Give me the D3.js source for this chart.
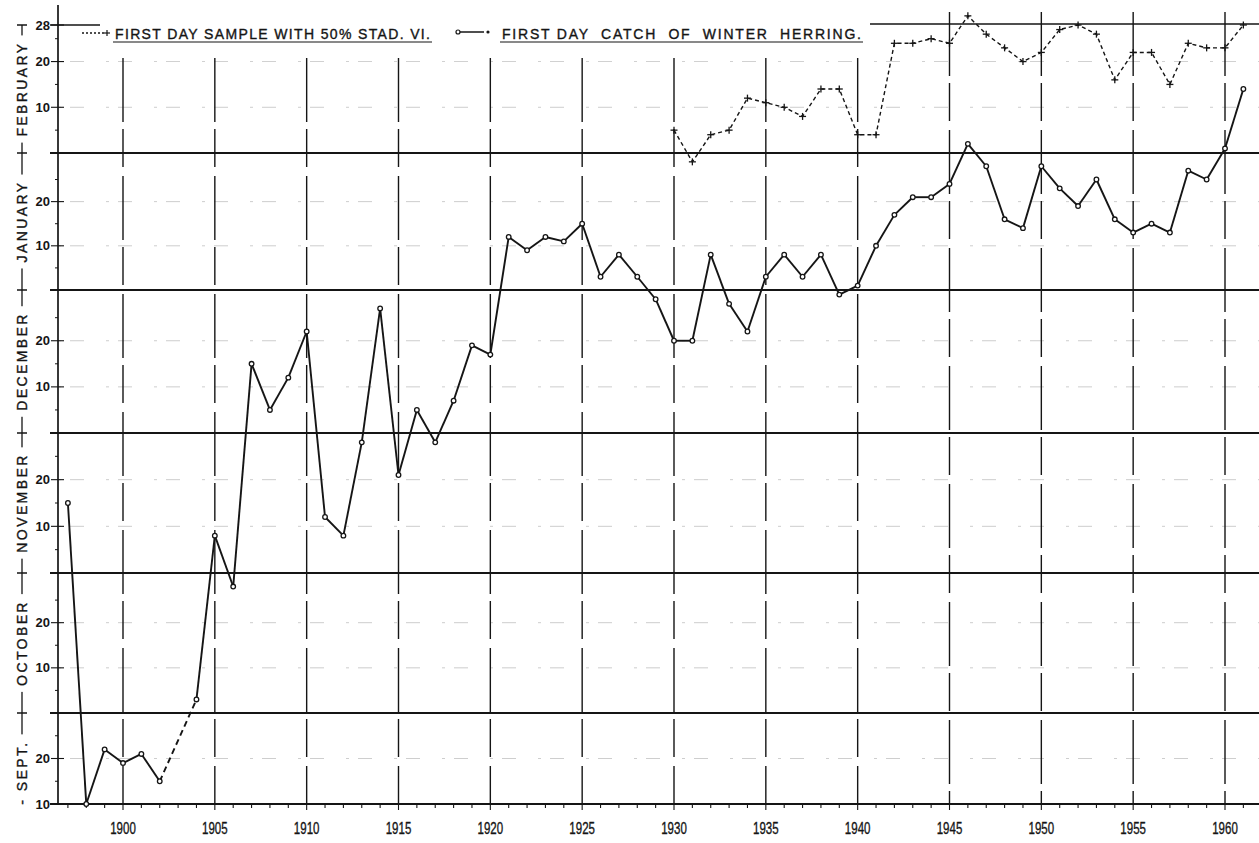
<!DOCTYPE html>
<html>
<head>
<meta charset="utf-8">
<script src="https://cdn.jsdelivr.net/npm/d3@7"></script>
<style>
  body { margin: 0; background: #fff; }
  svg { display: block; font-family: "Liberation Sans", Arial, sans-serif; }
  .lbl { stroke: #151515; stroke-width: 0.35px; }
</style>
</head>
<body>
<div id="chart"></div>
<script>
// first day catch of winter herring (month-day), 1903 missing
const catchYears = [1897, 1898, 1899, 1900, 1901, 1902, 1904, 1905, 1906, 1907, 1908, 1909, 1910,
  1911, 1912, 1913, 1914, 1915, 1916, 1917, 1918, 1919, 1920, 1921, 1922, 1923, 1924, 1925, 1926,
  1927, 1928, 1929, 1930, 1931, 1932, 1933, 1934, 1935, 1936, 1937, 1938, 1939, 1940, 1941, 1942,
  1943, 1944, 1945, 1946, 1947, 1948, 1949, 1950, 1951, 1952, 1953, 1954, 1955, 1956, 1957, 1958,
  1959, 1960, 1961];
const catchDates = ['11-15', '9-10', '9-22', '9-19', '9-21', '9-15', '10-3', '11-8', '10-28', '12-15',
  '12-5', '12-12', '12-22', '11-12', '11-8', '11-28', '12-27', '11-21', '12-5', '11-28', '12-7',
  '12-19', '12-17', '1-12', '1-9', '1-12', '1-11', '1-15', '1-3', '1-8', '1-3', '12-29', '12-20',
  '12-20', '1-8', '12-28', '12-22', '1-3', '1-8', '1-3', '1-8', '12-30', '1-1', '1-10', '1-17',
  '1-21', '1-21', '1-24', '2-2', '1-28', '1-16', '1-14', '1-28', '1-23', '1-19', '1-25', '1-16',
  '1-13', '1-15', '1-13', '1-27', '1-25', '2-1', '2-14'];

// first day sample with 50% stage VI
const stadYears = d3.range(1930, 1962);
const stadDates = ['2-5', '1-29', '2-4', '2-5', '2-12', '2-11', '2-10', '2-8', '2-14', '2-14', '2-4',
  '2-4', '2-24', '2-24', '2-25', '2-24', '3-2', '2-26', '2-23', '2-20', '2-22', '2-27', '2-28',
  '2-26', '2-16', '2-22', '2-22', '2-15', '2-24', '2-23', '2-23', '2-28'];

const monthLabels = ['- SEPT.', 'OCTOBER', 'NOVEMBER', 'DECEMBER', 'JANUARY', 'FEBRUARY'];
// season day of the last day of the previous month (Sept 1 = day 1)
const monthOffset = { 9: 0, 10: 30, 11: 61, 12: 91, 1: 122, 2: 153, 3: 181 };
const monthStarts = [0, 30, 61, 91, 122, 153];
const monthBounds = [30, 61, 91, 122, 153, 181];
const yearTicks = d3.range(1900, 1961, 5);

function seasonDay(s) {
  const [m, d] = s.split('-').map(Number);
  return monthOffset[m] + d;
}

const width = 1259, height = 843;
const svg = d3.select('#chart').append('svg')
  .attr('width', width).attr('height', height);

// scales (months drawn with nearly equal height, as on the original sheet)
const x = d3.scaleLinear().domain([1900, 1960]).range([123, 1225]);
const y = d3.scaleLinear()
  .domain([10, 30, 61, 91, 122, 153, 181])
  .range([804, 713, 573, 433, 290, 153, 25]);

const axisX = 58;
const ink = '#151515';

// faint dotted lines at the 10th and 20th of each month
let dayLines = [];
monthStarts.forEach((o, i) => {
  [10, 20].forEach(d => { if (!(i == 0 && d == 10)) dayLines.push(o + d); });
});
svg.append('g').selectAll('line').data(dayLines).join('line')
  .attr('x1', axisX).attr('x2', width)
  .attr('y1', d => y(d)).attr('y2', d => y(d))
  .attr('stroke', '#777').attr('stroke-width', 0.8)
  .attr('stroke-dasharray', '3,9,14,22').attr('opacity', 0.45);

// vertical year grid, broken lines
svg.append('g').selectAll('line').data(yearTicks).join('line')
  .attr('x1', d => x(d)).attr('x2', d => x(d))
  .attr('y1', d => d >= 1945 ? 12 : 58).attr('y2', y(10))
  .attr('stroke', ink).attr('stroke-width', 1.4)
  .attr('stroke-dasharray', '64,7,38,9');

// month boundary lines
svg.append('g').selectAll('line').data(monthBounds.slice(0, 5)).join('line')
  .attr('x1', axisX - 8).attr('x2', width)
  .attr('y1', d => y(d)).attr('y2', d => y(d))
  .attr('stroke', ink).attr('stroke-width', 1.8);

// Feb 28 line, short stub on the left and the right part
svg.append('line').attr('x1', axisX - 8).attr('x2', 100)
  .attr('y1', y(181)).attr('y2', y(181)).attr('stroke', ink).attr('stroke-width', 1.5);
svg.append('line').attr('x1', 870).attr('x2', width)
  .attr('y1', y(181) - 1).attr('y2', y(181) - 1).attr('stroke', ink).attr('stroke-width', 1.5);

// bottom axis
svg.append('line').attr('x1', axisX - 8).attr('x2', width)
  .attr('y1', y(10)).attr('y2', y(10)).attr('stroke', ink).attr('stroke-width', 1.8);
svg.append('g').selectAll('line').data(d3.range(1897, 1962)).join('line')
  .attr('x1', d => x(d)).attr('x2', d => x(d))
  .attr('y1', y(10)).attr('y2', d => y(10) + (d % 5 == 0 ? 6 : 4))
  .attr('stroke', ink).attr('stroke-width', 1.1);
svg.append('g').selectAll('text').data(yearTicks).join('text')
  .attr('class', 'lbl')
  .attr('transform', d => `translate(${x(d)},${y(10) + 30}) scale(0.72,1)`)
  .attr('text-anchor', 'middle')
  .style('font-size', '16px')
  .attr('fill', ink)
  .text(d => d);

// left axis
svg.append('line').attr('x1', axisX).attr('x2', axisX)
  .attr('y1', 5).attr('y2', y(10)).attr('stroke', ink).attr('stroke-width', 1.7);

let labelDays = [], minorDays = [];
monthStarts.forEach((o, i) => {
  labelDays.push({ day: o + 10, text: 10 }, { day: o + 20, text: 20 });
  [5, 15, 25].forEach(d => { if (!(i == 0 && d == 5)) minorDays.push(o + d); });
});
labelDays.push({ day: 181, text: 28 });
svg.append('g').selectAll('line').data(labelDays).join('line')
  .attr('x1', axisX - 7).attr('x2', axisX + 6)
  .attr('y1', d => y(d.day)).attr('y2', d => y(d.day))
  .attr('stroke', ink).attr('stroke-width', 1.1);
svg.append('g').selectAll('line').data(minorDays).join('line')
  .attr('x1', axisX - 3).attr('x2', axisX)
  .attr('y1', d => y(d)).attr('y2', d => y(d))
  .attr('stroke', ink).attr('stroke-width', 1);
svg.append('g').selectAll('text').data(labelDays).join('text')
  .attr('x', axisX - 8).attr('y', d => y(d.day))
  .attr('text-anchor', 'end').attr('dominant-baseline', 'central')
  .style('font-size', '13px').style('font-weight', 'bold')
  .attr('fill', ink)
  .text(d => d.text);

// month names down the left side
const mx = 22;
svg.append('line').attr('x1', mx).attr('x2', mx)
  .attr('y1', y(181)).attr('y2', y(12)).attr('stroke', ink).attr('stroke-width', 1.3);
const monthG = svg.append('g');
monthLabels.forEach((m, i) => {
  const lo = i == 0 ? 10 : monthBounds[i - 1];
  const hi = monthBounds[i];
  const cy = i == 0 ? (y(lo) + y(hi)) / 2 + 14 : (y(lo) + y(hi)) / 2;
  const t = monthG.append('text')
    .attr('class', 'lbl')
    .attr('transform', `translate(${mx},${cy}) rotate(-90)`)
    .attr('text-anchor', 'middle').attr('dominant-baseline', 'central')
    .style('font-size', '14px').style('letter-spacing', '2.4px')
    .attr('fill', ink)
    .text(m);
  const len = t.node().getComputedTextLength();
  monthG.insert('rect', 'text')
    .attr('x', mx - 9).attr('width', 18)
    .attr('y', cy - len / 2 - 6).attr('height', len + 12)
    .attr('fill', '#fff');
});
svg.append('g').selectAll('line').data(monthBounds).join('line')
  .attr('x1', mx - 5).attr('x2', mx + 5)
  .attr('y1', d => y(d)).attr('y2', d => y(d))
  .attr('stroke', ink).attr('stroke-width', 1.5);

// data
const catchData = catchYears.map((yr, i) => ({ year: yr, day: seasonDay(catchDates[i]) }));
const stadData = stadYears.map((yr, i) => ({ year: yr, day: seasonDay(stadDates[i]) }));

const line = d3.line().x(d => x(d.year)).y(d => y(d.day));

// gaps in the catch series are bridged with a dashed line
for (let i = 1; i < catchData.length; i++) {
  const a = catchData[i - 1], b = catchData[i];
  svg.append('path').datum([a, b])
    .attr('d', line).attr('fill', 'none').attr('stroke', ink)
    .attr('stroke-width', 1.9).attr('stroke-linejoin', 'round')
    .attr('stroke-dasharray', b.year - a.year > 1 ? '6,4' : null);
}
svg.append('path').datum(stadData)
  .attr('d', line).attr('fill', 'none').attr('stroke', ink)
  .attr('stroke-width', 1.4).attr('stroke-dasharray', '4,3');

svg.append('g').selectAll('circle').data(catchData).join('circle')
  .attr('cx', d => x(d.year)).attr('cy', d => y(d.day)).attr('r', 2.3)
  .attr('fill', '#fff').attr('stroke', ink).attr('stroke-width', 1.3);

const cross = (g, cx, cy, s) => {
  g.append('line').attr('x1', cx - s).attr('x2', cx + s).attr('y1', cy).attr('y2', cy);
  g.append('line').attr('x1', cx).attr('x2', cx).attr('y1', cy - s).attr('y2', cy + s);
};
const crossG = svg.append('g').attr('stroke', ink).attr('stroke-width', 1.3);
stadData.forEach(d => cross(crossG, x(d.year), y(d.day), 3.5));

// legend
const leg = svg.append('g');
leg.append('line').attr('x1', 82).attr('x2', 106).attr('y1', 33).attr('y2', 33)
  .attr('stroke', ink).attr('stroke-width', 1.3).attr('stroke-dasharray', '2,2');
cross(leg.append('g').attr('stroke', ink).attr('stroke-width', 1.2), 107, 33, 3);
leg.append('line').attr('x1', 458).attr('x2', 484).attr('y1', 32).attr('y2', 32)
  .attr('stroke', ink).attr('stroke-width', 1.5);
leg.append('circle').attr('cx', 458).attr('cy', 32).attr('r', 2)
  .attr('fill', '#fff').attr('stroke', ink).attr('stroke-width', 1.2);
leg.append('circle').attr('cx', 488).attr('cy', 32).attr('r', 1.6).attr('fill', ink);

const legTexts = [
  { t: 'FIRST DAY SAMPLE WITH 50% STAD. VI.', x0: 115, x1: 430 },
  { t: 'FIRST DAY  CATCH  OF  WINTER  HERRING.', x0: 502, x1: 861 }
];
legTexts.forEach(l => {
  leg.append('text').attr('class', 'lbl').attr('x', l.x0).attr('y', 39)
    .attr('textLength', l.x1 - l.x0).attr('lengthAdjust', 'spacing')
    .style('white-space', 'pre').style('font-size', '14px')
    .attr('fill', ink).text(l.t);
  leg.append('line').attr('x1', l.x0 - 2).attr('x2', l.x1 + 2).attr('y1', 42).attr('y2', 42)
    .attr('stroke', ink).attr('stroke-width', 1.1);
});
</script>
</body>
</html>
